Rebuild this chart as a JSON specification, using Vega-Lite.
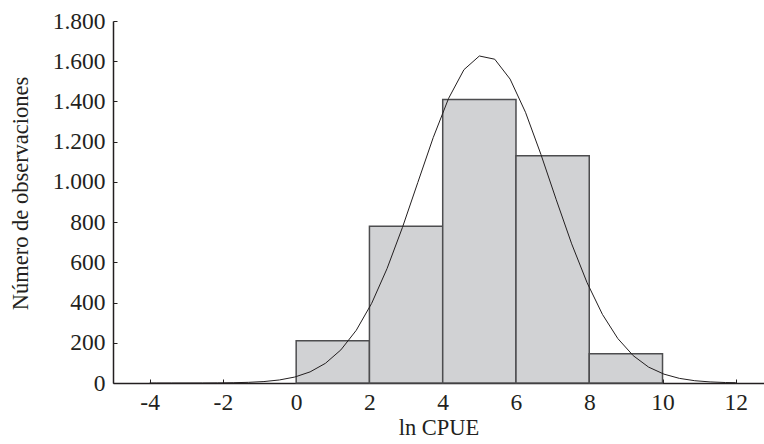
{
  "$schema": "https://vega.github.io/schema/vega-lite/v6.json",
  "width": 651,
  "height": 362,
  "autosize": "none",
  "padding": {"left": 113, "top": 21, "right": 0, "bottom": 61},
  "background": "white",
  "config": {
    "view": {"stroke": null},
    "font": "Liberation Serif",
    "axis": {
      "labelFont": "Liberation Serif",
      "titleFont": "Liberation Serif",
      "labelFontSize": 23.5,
      "titleFontSize": 22.5,
      "titleFontWeight": "normal",
      "labelColor": "#231f20",
      "titleColor": "#231f20",
      "domainColor": "#231f20",
      "domainWidth": 1.5,
      "tickColor": "#231f20",
      "tickWidth": 1,
      "grid": false
    }
  },
  "datasets": {
    "bars": [
      {"start": 0, "end": 2, "count": 210},
      {"start": 2, "end": 4, "count": 780},
      {"start": 4, "end": 6, "count": 1410},
      {"start": 6, "end": 8, "count": 1130},
      {"start": 8, "end": 10, "count": 145}
    ],
    "curve": [
      {"x": -4, "y": 0},
      {"x": -3.82, "y": 0.01},
      {"x": -3.4, "y": 0.03},
      {"x": -2.98, "y": 0.08},
      {"x": -2.56, "y": 0.23},
      {"x": -2.14, "y": 0.59},
      {"x": -1.72, "y": 1.4},
      {"x": -1.3, "y": 3.3},
      {"x": -0.88, "y": 7.2},
      {"x": -0.46, "y": 15},
      {"x": -0.04, "y": 29.6},
      {"x": 0.38, "y": 55.3},
      {"x": 0.8, "y": 98},
      {"x": 1.22, "y": 164.6},
      {"x": 1.64, "y": 262},
      {"x": 2.06, "y": 396},
      {"x": 2.48, "y": 568.6},
      {"x": 2.9, "y": 773},
      {"x": 3.32, "y": 997},
      {"x": 3.74, "y": 1220},
      {"x": 4.16, "y": 1415},
      {"x": 4.58, "y": 1558},
      {"x": 5.0, "y": 1626},
      {"x": 5.42, "y": 1610},
      {"x": 5.84, "y": 1511},
      {"x": 6.26, "y": 1346},
      {"x": 6.68, "y": 1137},
      {"x": 7.1, "y": 911},
      {"x": 7.52, "y": 692},
      {"x": 7.94, "y": 499},
      {"x": 8.36, "y": 341},
      {"x": 8.78, "y": 221},
      {"x": 9.2, "y": 136},
      {"x": 9.62, "y": 79},
      {"x": 10.04, "y": 44},
      {"x": 10.46, "y": 23},
      {"x": 10.88, "y": 11.4},
      {"x": 11.3, "y": 5.4},
      {"x": 11.72, "y": 2.4},
      {"x": 12, "y": 1.4}
    ]
  },
  "layer": [
    {
      "data": {"name": "bars"},
      "mark": {"type": "rect", "fill": "#d1d2d4", "stroke": "#4d4d4f", "strokeWidth": 1.5},
      "encoding": {
        "x": {
          "field": "start",
          "type": "quantitative",
          "scale": {"domain": [-5, 12.77], "nice": false, "zero": false},
          "axis": {
            "values": [-4, -2, 0, 2, 4, 6, 8, 10, 12],
            "labelExpr": "toString(datum.value)",
            "title": "ln CPUE",
            "tickSize": -4,
            "labelPadding": 11,
            "titlePadding": 3
          }
        },
        "x2": {"field": "end"},
        "y": {
          "field": "count",
          "type": "quantitative",
          "scale": {"domain": [0, 1800], "nice": false},
          "axis": {
            "values": [0, 200, 400, 600, 800, 1000, 1200, 1400, 1600, 1800],
            "labelExpr": "replace(format(datum.value, ',d'), ',', '.')",
            "title": "Número de observaciones",
            "tickSize": -4,
            "labelPadding": 12,
            "titleX": -93,
            "titleY": 172,
            "titleBaseline": "middle"
          }
        },
        "y2": {"datum": 0}
      }
    },
    {
      "data": {"name": "curve"},
      "mark": {"type": "line", "color": "#231f20", "strokeWidth": 1, "interpolate": "linear"},
      "encoding": {
        "x": {"field": "x", "type": "quantitative"},
        "y": {"field": "y", "type": "quantitative"}
      }
    }
  ]
}
